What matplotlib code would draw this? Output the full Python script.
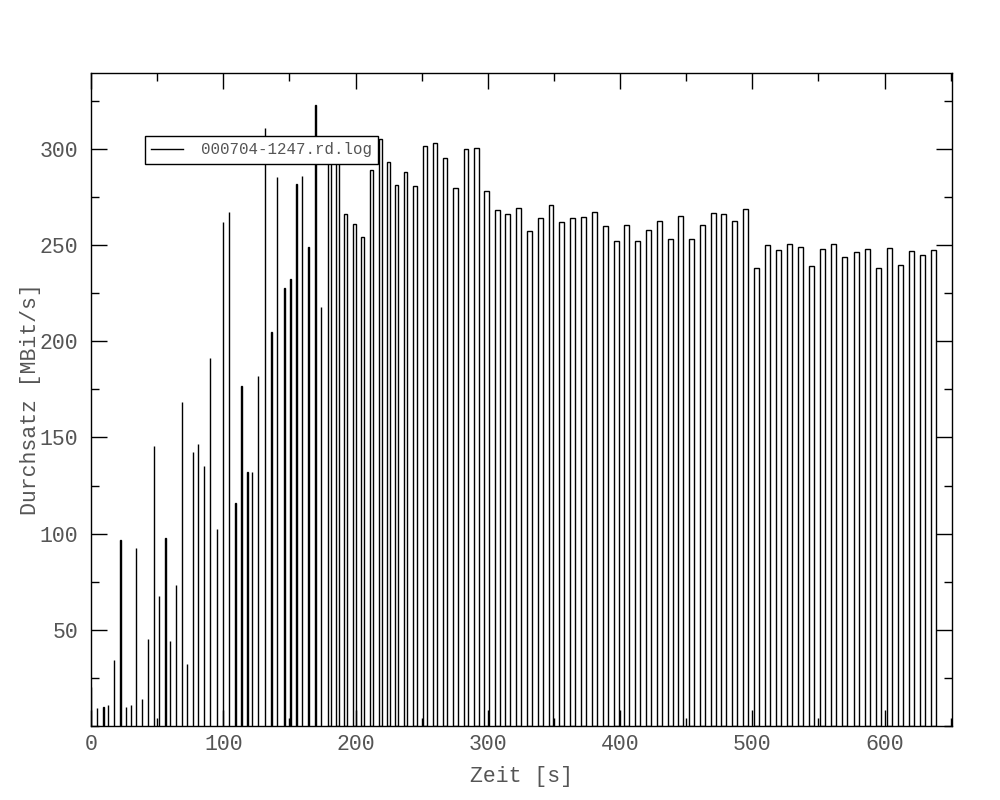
import matplotlib
matplotlib.use("Agg")
import matplotlib.pyplot as plt
from matplotlib.lines import Line2D
from matplotlib.ticker import MultipleLocator

plt.rcParams['font.family'] = ['Liberation Mono', 'DejaVu Sans Mono']

# Messintervalle: Startzeit [s], Dauer [s], Durchsatz [MBit/s]
t_start = [0.0, 4.8, 8.8, 13.1, 17.6, 21.6, 26.1, 30.4, 34.4, 38.8,
           43.3, 47.3, 51.6, 55.7, 60.0, 64.5, 69.0, 72.8, 77.4, 81.2,
           85.7, 90.2, 95.5, 100.0, 104.6, 108.6, 113.1, 117.6, 122.0, 126.5,
           131.2, 135.8, 140.9, 145.7, 150.1, 154.7, 159.8, 164.4, 169.0, 174.1,
           179.2, 185.5, 191.5, 198.3, 204.4, 211.1, 217.4, 224.0, 230.1, 236.7,
           243.1, 251.3, 258.8, 266.4, 273.9, 282.3, 289.8, 297.4, 305.7, 313.3,
           321.6, 329.9, 338.2, 346.5, 354.1, 362.4, 370.5, 378.8, 387.4, 395.7,
           403.3, 411.6, 419.9, 428.2, 436.1, 444.1, 452.4, 460.7, 468.8, 476.6,
           484.9, 493.2, 501.5, 509.9, 518.2, 526.5, 534.8, 543.1, 551.5, 559.8,
           568.1, 576.9, 585.3, 593.6, 602.1, 610.4, 618.8, 627.1, 635.4]

dauer = [0.0, 0.0, 0.8, 0.0, 0.0, 0.8, 0.0, 0.0, 0.0, 0.0,
         0.0, 0.0, 0.0, 0.8, 0.0, 0.0, 0.0, 0.0, 0.0, 0.0,
         0.0, 0.0, 0.0, 0.0, 0.0, 0.8, 0.8, 0.8, 0.0, 0.0,
         0.0, 0.8, 0.0, 0.8, 0.8, 0.8, 0.0, 0.8, 1.0, 0.0,
         1.9, 1.7, 2.3, 1.7, 2.3, 1.9, 2.3, 1.7, 2.3, 2.0,
         3.6, 3.0, 3.0, 3.0, 3.8, 3.0, 3.3, 3.8, 3.3, 3.8,
         3.8, 3.8, 3.3, 3.0, 3.8, 3.3, 3.6, 3.6, 3.3, 3.3,
         3.8, 3.6, 3.3, 3.3, 3.8, 3.8, 3.6, 3.3, 3.6, 3.8,
         3.8, 3.3, 3.8, 3.8, 3.8, 3.8, 3.8, 3.8, 3.8, 3.8,
         3.8, 3.6, 3.6, 4.0, 3.8, 3.8, 3.8, 3.8, 3.8]

durchsatz = [20.2, 9.3, 9.8, 10.9, 34.2, 96.5, 9.8, 10.9, 92.3, 14.0,
             45.2, 145.4, 67.5, 97.6, 44.1, 73.2, 168.2, 32.2, 142.5, 146.5,
             135.3, 191.2, 102.3, 261.8, 267.4, 115.8, 176.7, 132.0, 132.0, 181.8,
             311.0, 204.8, 285.5, 227.8, 232.3, 281.6, 286.2, 248.8, 322.8, 218.1,
             296.0, 297.0, 266.3, 261.0, 254.4, 289.2, 305.3, 293.2, 281.4, 288.0,
             280.7, 301.5, 303.0, 295.3, 279.7, 300.0, 300.5, 278.1, 268.3, 266.2,
             269.3, 257.4, 264.1, 270.9, 262.0, 264.1, 264.6, 267.2, 260.0, 252.2,
             260.5, 252.2, 257.9, 262.6, 253.2, 265.2, 253.2, 260.5, 266.7, 266.2,
             262.6, 268.8, 238.2, 250.1, 247.5, 250.6, 249.1, 239.2, 248.0, 250.6,
             243.9, 246.5, 248.0, 238.2, 248.5, 239.7, 247.0, 244.9, 247.5]

textfarbe = '#555555'

fig = plt.figure(figsize=(10, 8), dpi=100)
ax = fig.add_axes([0.091, 0.0925, 0.861, 0.81625])

ax.bar(t_start, durchsatz, width=dauer, align='edge', fill=False,
       edgecolor='black', linewidth=1.0, zorder=2)

ax.set_xlim(0, 651)
ax.set_ylim(0, 339.5)

ax.xaxis.set_major_locator(MultipleLocator(100))
ax.xaxis.set_minor_locator(MultipleLocator(50))
ax.set_yticks([50, 100, 150, 200, 250, 300])
ax.yaxis.set_minor_locator(MultipleLocator(25))

ax.tick_params(which='both', direction='in', top=True, right=True,
               width=1.0, colors='black', labelcolor=textfarbe, labelsize=15.5)
ax.tick_params(which='major', length=11.5)
ax.tick_params(which='minor', length=5.8)
ax.tick_params(axis='x', pad=6)
ax.tick_params(axis='y', pad=9)

for s in ax.spines.values():
    s.set_linewidth(1.0)

ax.set_xlabel('Zeit [s]', fontsize=15.5, color=textfarbe, labelpad=8)
ax.set_ylabel('Durchsatz [MBit/s]', fontsize=15.5, color=textfarbe, labelpad=-1)

leg = ax.legend(handles=[Line2D([0], [0], color='black', lw=1.0)],
                labels=['000704-1247.rd.log'], loc='upper left',
                bbox_to_anchor=(0.0627, 0.9035), borderaxespad=0,
                fontsize=11.3, frameon=True, fancybox=False, framealpha=1,
                edgecolor='black', borderpad=0.4, handlelength=2.0,
                handletextpad=1.15)
leg.get_frame().set_linewidth(1.0)
for txt in leg.get_texts():
    txt.set_color(textfarbe)
leg.set_zorder(5)

fig.savefig('out.png', dpi=100, facecolor='white')
